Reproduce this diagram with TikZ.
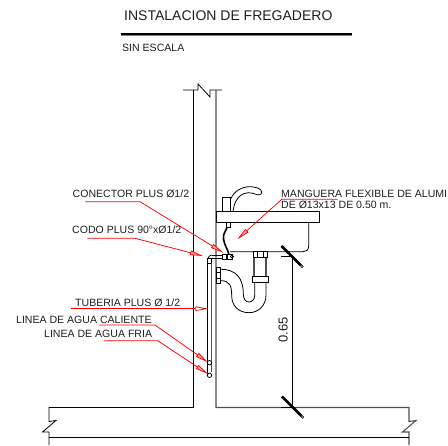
\documentclass[tikz,border=0pt]{standalone}
\usepackage{fontspec}
\setmainfont{Liberation Sans}
\usetikzlibrary{arrows.meta}
\definecolor{labeltext}{RGB}{30,30,30}
\definecolor{wallgray}{RGB}{80,80,80}
\tikzset{
  lbl/.style={anchor=base west,inner sep=0pt,font=\fontsize{10.55}{12}\selectfont,text=labeltext},
  ttl/.style={anchor=base west,inner sep=0pt,font=\fontsize{14}{16}\selectfont,text=labeltext},
  leader/.style={draw=red,line width=0.75pt,-{Triangle[length=13pt,width=4.5pt,fill=red!35]}},
  plain/.style={draw=black,line width=0.8pt},
  heavy/.style={draw=wallgray,line width=1.1pt},
  tick/.style={draw=black,line width=2.6pt},
  tickend/.style={draw=black,fill=white,line width=0.6pt,circle,inner sep=0pt,minimum size=2.4pt},
}
\begin{document}
\begin{tikzpicture}[x=1pt,y=-1pt]
\useasboundingbox[fill=white] (0,0) rectangle (448,446);
\begin{scope}
\clip (0,0) rectangle (448,446);
% title
\node[ttl] (title) at (124,20.3) {INSTALACION DE FREGADERO};
\draw[black,line width=1.6pt] (120.5,34) -- (352,34);
\draw[gray,line width=0.6pt] (121,35.8) -- (352,35.8);
\node[lbl] (scale) at (122,51.5) {SIN ESCALA};
% wall
\draw[plain] (183,90) -- (198,90) -- (198,84) -- (210,97) -- (210,90) -- (222,90);
\draw[plain] (193.5,90) -- (193.5,407.5) -- (49,407.5) -- (49,421.5) -- (56,420.5) -- (42.5,432) -- (49,432) -- (49,445);
\draw[heavy] (216,90) -- (216,407.5) -- (409,407.5) -- (409,421.5) -- (416,420.5) -- (402.5,432) -- (409,432) -- (409,445);
\draw[plain] (49,437) -- (409,437);
% sink
\draw[plain,fill=white] (216,211.7) rectangle (319.3,222.7);
\draw[plain] (308.7,222.7) -- (308.7,246) .. controls (308.7,250) and (306,251.7) .. (303,251.7) -- (230,251.7);
% faucet
\draw[plain,fill=white] (222.7,197) rectangle (230.7,211.7);
\draw[plain] (230.7,199) .. controls (234,191) and (242,186.7) .. (250,186.7) .. controls (255,186.7) and (261.7,188.5) .. (261.7,192) .. controls (261.7,195.5) and (258,195.3) .. (255,194) .. controls (246,190.5) and (235,194) .. (233,211.7);
% hose
\draw[black,line width=1.6pt] (227.7,224) .. controls (227,231) and (222.5,233) .. (223.5,239) .. controls (224.5,246) and (228,249) .. (229,255);
\draw[plain,fill=white] (226,222.7) rectangle (230,227);
% connector and elbow
\draw[plain,fill=white] (222,254.5) rectangle (226,259);
\draw[plain,fill=white] (227,254) rectangle (232,259);
\draw[plain] (232,256.5) circle (1.6);
\draw[plain] (212,255) -- (222,255) (212,258.5) -- (222,258.5);
\draw[plain] (207.7,262) .. controls (207.7,258) and (209,255) .. (212,255);
\draw[plain,fill=white] (207.7,258) rectangle (211.7,263);
% supply pipes
\draw[plain] (207.7,263) -- (207.7,375);
\draw[heavy,line width=0.7pt] (211.7,263) -- (211.7,372);
\draw[plain] (209.5,362.7) circle (2.2);
\draw[plain] (209.5,375.3) circle (2.2);
% drain tail
\draw[heavy] (254,251.7) -- (254,276.7) (266,251.7) -- (266,276.7);
\draw[plain,fill=white] (253,251.7) rectangle (267,257);
\draw[plain] (257,251.7) -- (257,257) (263,251.7) -- (263,257);
\draw[plain,fill=white] (252.7,276.7) rectangle (268.7,282);
% trap
\draw[plain] (266,282) -- (266,295) .. controls (266,306) and (258,312.7) .. (249,312.7) .. controls (239,312.7) and (231.7,306) .. (231.7,296) .. controls (231.7,286) and (230,280.7) .. (220.7,280.7);
\draw[plain] (254.7,282) -- (254.7,295) .. controls (254.7,299.5) and (252,302) .. (249,302) .. controls (246,302) and (243.3,299.5) .. (243.3,294) .. controls (243.3,278) and (236,269.3) .. (220.7,269.3);
\draw[plain,fill=white] (216,267) rectangle (220.7,283);
\draw[plain] (216,272) -- (220.7,272) (216,278) -- (220.7,278);
% dimension
\draw[plain] (281,256) -- (292.5,256) (292.5,256) -- (292.5,407.5) (281,407.5) -- (292.5,407.5);
\draw[tick] (281.5,246) -- (301,265.5);
\node[tickend] (dimtop) at (302,266.5) {};
\draw[tick] (282,396.5) -- (301.5,416);
\node[tickend] (dimbot) at (302.5,417) {};
\node[lbl,font=\fontsize{13}{15}\selectfont,rotate=90] (dim) at (287.5,343) {0.65};
% labels
\node[lbl] (conector) at (72.5,198) {CONECTOR PLUS Ø1/2};
\node[lbl] (codo) at (72,234) {CODO PLUS 90°xØ1/2};
\node[lbl] (tuberia) at (75,306.7) {TUBERIA PLUS Ø 1/2};
\node[lbl] (caliente) at (16,324) {LINEA DE AGUA CALIENTE};
\node[lbl] (fria) at (44,338) {LINEA DE AGUA FRIA};
\node[lbl] (manguera) at (281,197.3) {MANGUERA FLEXIBLE DE ALUMI};
\node[lbl] (manguera2) at (281,209) {DE Ø13x13 DE 0.50 m.};
% leaders
\coordinate (conA) at (85.3,201.7); \coordinate (conB) at (140,201.7); \coordinate (conT) at (223.3,252.7);
\coordinate (codA) at (87.3,238.3); \coordinate (codB) at (135,238.3); \coordinate (codT) at (203,256);
\coordinate (tubA) at (71.3,308.7); \coordinate (tubT) at (208.3,308.7);
\coordinate (calA) at (99.3,325); \coordinate (calB) at (155,325); \coordinate (calT) at (208,362.3);
\coordinate (friA) at (104,340.7); \coordinate (friB) at (157.7,340.7); \coordinate (friT) at (208,374);
\coordinate (manA) at (337.7,199.3); \coordinate (manB) at (281.7,199.3); \coordinate (manT) at (237.3,239.3);
\draw[leader] (conA) -- (conB) -- (conT);
\draw[leader] (codA) -- (codB) -- (codT);
\draw[leader,-{Triangle[open,length=13pt,width=4.5pt,fill=white]}] (tubA) -- (tubT);
\draw[leader] (calA) -- (calB) -- (calT);
\draw[leader] (friA) -- (friB) -- (friT);
\draw[leader] (manA) -- (manB) -- (manT);
\end{scope}
\end{tikzpicture}
\end{document}
